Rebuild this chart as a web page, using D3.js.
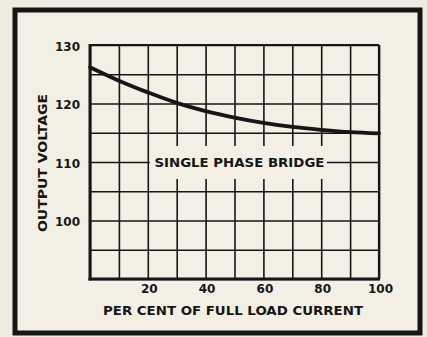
<!DOCTYPE html>
<html>
<head>
<meta charset="utf-8">
<script src="https://cdn.jsdelivr.net/npm/d3@7/dist/d3.min.js"></script>
<style>
  html, body { margin: 0; padding: 0; background: #f1ede3; }
  svg { display: block; }
  text { font-family: "DejaVu Sans", "Liberation Sans", sans-serif; font-weight: bold; fill: #161616; }
</style>
</head>
<body>
<svg id="chart" width="427" height="337"></svg>
<script>
// Regulation curve: output voltage vs. load for a single phase bridge rectifier
const loadPercent = [0, 10, 20, 30, 40, 50, 60, 70, 80, 90, 100];
const outputVoltage = [126.2, 123.9, 121.9, 120.1, 118.7, 117.6, 116.7, 116.0, 115.5, 115.1, 114.9];

const xGridValues = [0, 10, 20, 30, 40, 50, 60, 70, 80, 90, 100];
const yGridValues = [90, 95, 100, 105, 110, 115, 120, 125, 130];
const xTickLabels = [20, 40, 60, 80, 100];
const yTickLabels = [100, 110, 120, 130];

const curveLabel = "SINGLE PHASE BRIDGE";
const xTitle = "PER CENT OF FULL LOAD CURRENT";
const yTitle = "OUTPUT VOLTAGE";

const ink = "#161616";
const paper = "#f3efe5";

const svg = d3.select("#chart");

// page background and heavy outer frame
svg.append("rect").attr("x", 0).attr("y", 0).attr("width", 427).attr("height", 337).attr("fill", "#efebe1");
svg.append("rect")
  .attr("x", 15).attr("y", 10).attr("width", 405).attr("height", 323)
  .attr("fill", paper).attr("stroke", ink).attr("stroke-width", 5);

const plot = { left: 90, right: 379, top: 45, bottom: 279 };
const x = d3.scaleLinear().domain([0, 100]).range([plot.left, plot.right]);
const y = d3.scaleLinear().domain([90, 130]).range([plot.bottom, plot.top]);

// grid lines
const gridX = svg.append("g")
  .attr("transform", `translate(0,${plot.bottom})`)
  .call(d3.axisBottom(x).tickValues(xGridValues).tickSize(-(plot.bottom - plot.top)).tickFormat(""));
const gridY = svg.append("g")
  .attr("transform", `translate(${plot.left},0)`)
  .call(d3.axisLeft(y).tickValues(yGridValues).tickSize(-(plot.right - plot.left)).tickFormat(""));
[gridX, gridY].forEach(g => {
  g.select(".domain").remove();
  g.selectAll(".tick line").attr("stroke", ink).attr("stroke-width", 1.6);
});

// plot border: heavier on left and bottom
svg.append("line").attr("x1", plot.left).attr("x2", plot.right).attr("y1", plot.top).attr("y2", plot.top)
  .attr("stroke", ink).attr("stroke-width", 2.2);
svg.append("line").attr("x1", plot.right).attr("x2", plot.right).attr("y1", plot.top).attr("y2", plot.bottom)
  .attr("stroke", ink).attr("stroke-width", 2.2);
svg.append("line").attr("x1", plot.left).attr("x2", plot.left).attr("y1", plot.top - 1).attr("y2", plot.bottom + 1.5)
  .attr("stroke", ink).attr("stroke-width", 3);
svg.append("line").attr("x1", plot.left - 1.5).attr("x2", plot.right + 1).attr("y1", plot.bottom).attr("y2", plot.bottom)
  .attr("stroke", ink).attr("stroke-width", 3);

// regulation curve
const line = d3.line()
  .x((d, i) => x(loadPercent[i]))
  .y(d => y(d))
  .curve(d3.curveCatmullRom.alpha(0.5));
svg.append("path")
  .datum(outputVoltage)
  .attr("d", line)
  .attr("fill", "none")
  .attr("stroke", ink)
  .attr("stroke-width", 3.8)
  .attr("stroke-linecap", "round");

// curve label on a cleared patch of the grid
svg.append("rect")
  .attr("x", x(20) + 2).attr("y", y(110) - 16)
  .attr("width", x(82) - x(20) - 2).attr("height", 33)
  .attr("fill", paper);
svg.append("text")
  .attr("x", x(22.3)).attr("y", y(110) + 5)
  .attr("font-size", 12.5)
  .attr("textLength", 170).attr("lengthAdjust", "spacingAndGlyphs")
  .text(curveLabel);

// tick labels
const xLabels = svg.append("g")
  .attr("transform", `translate(0,${plot.bottom})`)
  .call(d3.axisBottom(x).tickValues(xTickLabels).tickSize(0).tickPadding(5));
xLabels.select(".domain").remove();
xLabels.selectAll("text")
  .attr("font-size", 12).attr("font-family", "DejaVu Sans, sans-serif").attr("font-weight", "bold").attr("fill", ink)
  .attr("dx", 1);

const yLabels = svg.append("g")
  .attr("transform", `translate(${plot.left},0)`)
  .call(d3.axisLeft(y).tickValues(yTickLabels).tickSize(0).tickPadding(10));
yLabels.select(".domain").remove();
yLabels.selectAll("text")
  .attr("font-size", 12).attr("font-family", "DejaVu Sans, sans-serif").attr("font-weight", "bold").attr("fill", ink)
  .attr("dy", "0.42em");

// axis titles
svg.append("text")
  .attr("x", 103).attr("y", 315)
  .attr("font-size", 12)
  .attr("textLength", 260).attr("lengthAdjust", "spacingAndGlyphs")
  .text(xTitle);

svg.append("text")
  .attr("transform", "translate(47,232) rotate(-90)")
  .attr("font-size", 12)
  .attr("textLength", 138).attr("lengthAdjust", "spacingAndGlyphs")
  .text(yTitle);
</script>
</body>
</html>
